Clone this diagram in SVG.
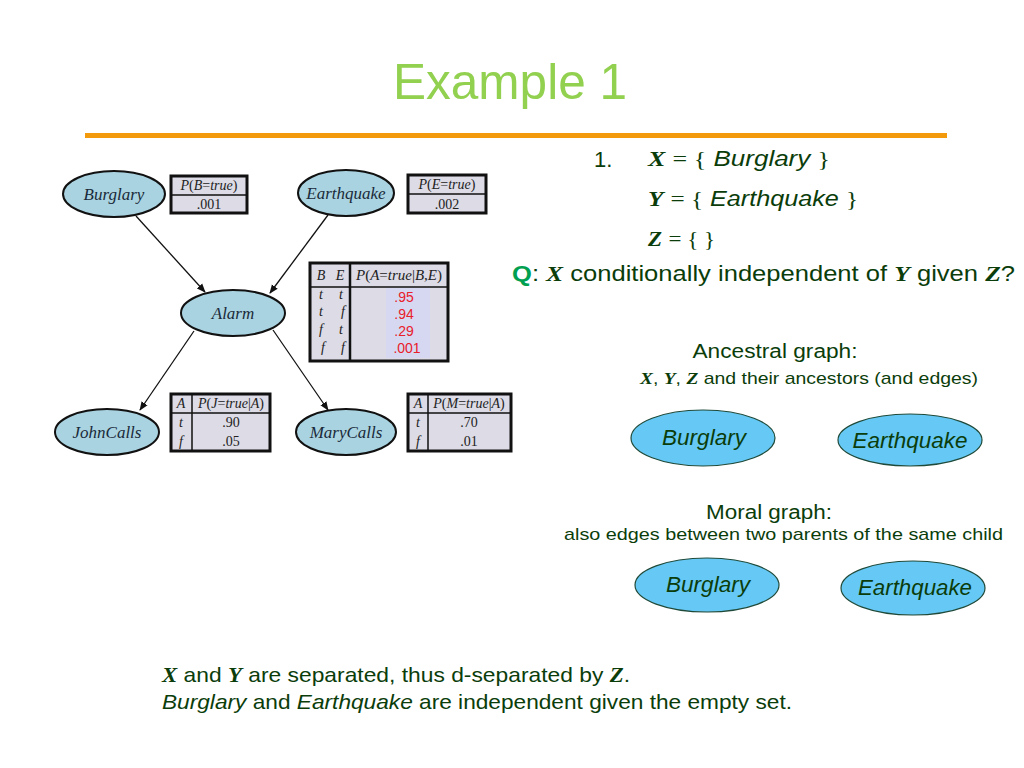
<svg xmlns="http://www.w3.org/2000/svg" width="1024" height="768" viewBox="0 0 1024 768">
<style>
.bn{fill:#a9d3e0;stroke:#111;stroke-width:2}
.bnt{font-family:"Liberation Serif",serif;font-style:italic;font-size:17px;fill:#1a2a3a;text-anchor:middle}
.tb{fill:#dcdbe6;stroke:#111;stroke-width:3}
.tl{stroke:#111;stroke-width:1.5;fill:none}
.tt{font-family:"Liberation Serif",serif;font-size:14px;fill:#222;text-anchor:middle}
.ti{font-style:italic}
.red{font-family:"Liberation Sans",sans-serif;font-size:14px;fill:#e8202a;text-anchor:middle}
.g{font-family:"Liberation Sans",sans-serif;fill:#0b3d0b}
.m{font-family:"Liberation Serif",serif;font-weight:bold;font-style:italic}
.rn{fill:#66c8f4;stroke:#1f4a3a;stroke-width:1.2}
.rnt{font-family:"Liberation Sans",sans-serif;font-style:italic;font-size:22px;fill:#0b3d0b;text-anchor:middle}
.edge{stroke:#111;stroke-width:1.3;fill:none;marker-end:url(#ah)}
</style>
<defs>
<marker id="ah" viewBox="0 0 10 10" refX="9" refY="5" markerWidth="9" markerHeight="9" orient="auto" markerUnits="userSpaceOnUse">
<path d="M0,1 L10,5 L0,9 z" fill="#111"/>
</marker>
</defs>
<rect width="1024" height="768" fill="#fff"/>
<text x="510" y="99" font-family="Liberation Sans,sans-serif" font-size="50" fill="#92d050" text-anchor="middle" textLength="234" lengthAdjust="spacingAndGlyphs">Example 1</text>
<rect x="85" y="133" width="862" height="5" fill="#f39a0c"/>

<g id="connectors">
<line class="edge" x1="136" y1="216" x2="205" y2="292"/>
<line class="edge" x1="328" y1="215" x2="270" y2="293"/>
<line class="edge" x1="194" y1="331" x2="140" y2="410"/>
<line class="edge" x1="273" y1="330" x2="328" y2="410"/>
</g>

<g id="burglary">
<ellipse class="bn" cx="114" cy="194" rx="51" ry="23"/>
<text class="bnt" x="114" y="200">Burglary</text>
<rect class="tb" x="171" y="176" width="76" height="37"/>
<line class="tl" x1="171" y1="195" x2="247" y2="195"/>
<text class="tt" x="209" y="190"><tspan class="ti">P</tspan>(<tspan class="ti">B</tspan>=<tspan class="ti">true</tspan>)</text>
<text class="tt" x="209" y="209">.001</text>
</g>

<g id="earthquake">
<ellipse class="bn" cx="346" cy="193" rx="48" ry="23"/>
<text class="bnt" x="346" y="199">Earthquake</text>
<rect class="tb" x="408" y="175" width="78" height="38"/>
<line class="tl" x1="408" y1="194" x2="486" y2="194"/>
<text class="tt" x="447" y="189"><tspan class="ti">P</tspan>(<tspan class="ti">E</tspan>=<tspan class="ti">true</tspan>)</text>
<text class="tt" x="447" y="209">.002</text>
</g>

<g id="alarm">
<ellipse class="bn" cx="233" cy="313" rx="52" ry="23"/>
<text class="bnt" x="233" y="319">Alarm</text>
<rect class="tb" x="310" y="263" width="138" height="98"/>
<rect x="386" y="288" width="44" height="70" fill="#d6d8f2"/>
<line class="tl" x1="310" y1="287" x2="448" y2="287"/>
<line x1="350" y1="263" x2="350" y2="361" stroke="#111" stroke-width="2.5"/>
<text class="tt" x="321" y="280"><tspan class="ti">B</tspan></text>
<text class="tt" x="340" y="280"><tspan class="ti">E</tspan></text>
<text class="tt" x="399" y="280" textLength="86" lengthAdjust="spacingAndGlyphs"><tspan class="ti">P</tspan>(<tspan class="ti">A</tspan>=<tspan class="ti">true</tspan>|<tspan class="ti">B</tspan>,<tspan class="ti">E</tspan>)</text>
<g class="tt ti">
<text x="321" y="299">t</text><text x="341" y="299">t</text>
<text x="321" y="316">t</text><text x="343" y="316">f</text>
<text x="321" y="334">f</text><text x="341" y="334">t</text>
<text x="323" y="352">f</text><text x="343" y="352">f</text>
</g>
<text class="red" x="404" y="302">.95</text>
<text class="red" x="404" y="319">.94</text>
<text class="red" x="404" y="336">.29</text>
<text class="red" x="407" y="353">.001</text>
</g>

<g id="johncalls">
<ellipse class="bn" cx="107" cy="432" rx="52" ry="23"/>
<text class="bnt" x="107" y="438">JohnCalls</text>
<rect class="tb" x="171" y="394" width="99" height="57"/>
<line class="tl" x1="171" y1="413" x2="270" y2="413"/>
<line class="tl" x1="192" y1="394" x2="192" y2="451"/>
<text class="tt" x="181" y="408"><tspan class="ti">A</tspan></text>
<text class="tt" x="231" y="408"><tspan class="ti">P</tspan>(<tspan class="ti">J</tspan>=<tspan class="ti">true</tspan>|<tspan class="ti">A</tspan>)</text>
<text class="tt ti" x="181" y="427">t</text>
<text class="tt ti" x="181" y="446">f</text>
<text class="tt" x="231" y="427">.90</text>
<text class="tt" x="231" y="446">.05</text>
</g>

<g id="marycalls">
<ellipse class="bn" cx="346" cy="432" rx="50" ry="23"/>
<text class="bnt" x="346" y="438">MaryCalls</text>
<rect class="tb" x="408" y="394" width="103" height="57"/>
<line class="tl" x1="408" y1="413" x2="511" y2="413"/>
<line class="tl" x1="428" y1="394" x2="428" y2="451"/>
<text class="tt" x="418" y="408"><tspan class="ti">A</tspan></text>
<text class="tt" x="469" y="408"><tspan class="ti">P</tspan>(<tspan class="ti">M</tspan>=<tspan class="ti">true</tspan>|<tspan class="ti">A</tspan>)</text>
<text class="tt ti" x="418" y="427">t</text>
<text class="tt ti" x="418" y="446">f</text>
<text class="tt" x="469" y="427">.70</text>
<text class="tt" x="469" y="446">.01</text>
</g>

<g id="query" class="g" font-size="22">
<text x="594" y="167">1.</text>
<text x="648" y="166" textLength="182" lengthAdjust="spacingAndGlyphs"><tspan class="m">X</tspan> <tspan font-family="Liberation Serif,serif">= {</tspan> <tspan font-style="italic">Burglary</tspan> <tspan font-family="Liberation Serif,serif">}</tspan></text>
<text x="648" y="206" textLength="210" lengthAdjust="spacingAndGlyphs"><tspan class="m">Y</tspan> <tspan font-family="Liberation Serif,serif">= {</tspan> <tspan font-style="italic">Earthquake</tspan> <tspan font-family="Liberation Serif,serif">}</tspan></text>
<text x="648" y="246" textLength="67" lengthAdjust="spacingAndGlyphs"><tspan class="m">Z</tspan> <tspan font-family="Liberation Serif,serif">= { }</tspan></text>
<text x="512" y="281" textLength="503" lengthAdjust="spacingAndGlyphs"><tspan fill="#00a050" font-weight="bold">Q</tspan>: <tspan class="m">X</tspan> conditionally independent of <tspan class="m">Y</tspan> given <tspan class="m">Z</tspan>?</text>
</g>

<g class="g">
<text x="775" y="358" font-size="20" text-anchor="middle" textLength="165" lengthAdjust="spacingAndGlyphs">Ancestral graph:</text>
<text x="640" y="384" font-size="17" textLength="338" lengthAdjust="spacingAndGlyphs"><tspan class="m">X</tspan>, <tspan class="m">Y</tspan>, <tspan class="m">Z</tspan> and their ancestors (and edges)</text>
<text x="769" y="519" font-size="20" text-anchor="middle" textLength="126" lengthAdjust="spacingAndGlyphs">Moral graph:</text>
<text x="564" y="540" font-size="17" textLength="439" lengthAdjust="spacingAndGlyphs">also edges between two parents of the same child</text>
</g>

<g id="anc-burglary">
<ellipse class="rn" cx="703" cy="438" rx="72" ry="28"/>
<text class="rnt" x="704" y="445" textLength="84" lengthAdjust="spacingAndGlyphs">Burglary</text>
</g>
<g id="anc-earthquake">
<ellipse class="rn" cx="910" cy="440" rx="72" ry="26"/>
<text class="rnt" x="910" y="448" textLength="115" lengthAdjust="spacingAndGlyphs">Earthquake</text>
</g>
<g id="moral-burglary">
<ellipse class="rn" cx="707" cy="585" rx="72" ry="27"/>
<text class="rnt" x="708" y="592" textLength="84" lengthAdjust="spacingAndGlyphs">Burglary</text>
</g>
<g id="moral-earthquake">
<ellipse class="rn" cx="913" cy="588" rx="72" ry="27"/>
<text class="rnt" x="915" y="595" textLength="114" lengthAdjust="spacingAndGlyphs">Earthquake</text>
</g>

<g class="g" font-size="21">
<text x="162" y="682" textLength="468" lengthAdjust="spacingAndGlyphs"><tspan class="m">X</tspan> and <tspan class="m">Y</tspan> are separated, thus d-separated by <tspan class="m">Z</tspan>.</text>
<text x="162" y="709" textLength="630" lengthAdjust="spacingAndGlyphs"><tspan font-style="italic">Burglary</tspan> and <tspan font-style="italic">Earthquake</tspan> are independent given the empty set.</text>
</g>
</svg>
